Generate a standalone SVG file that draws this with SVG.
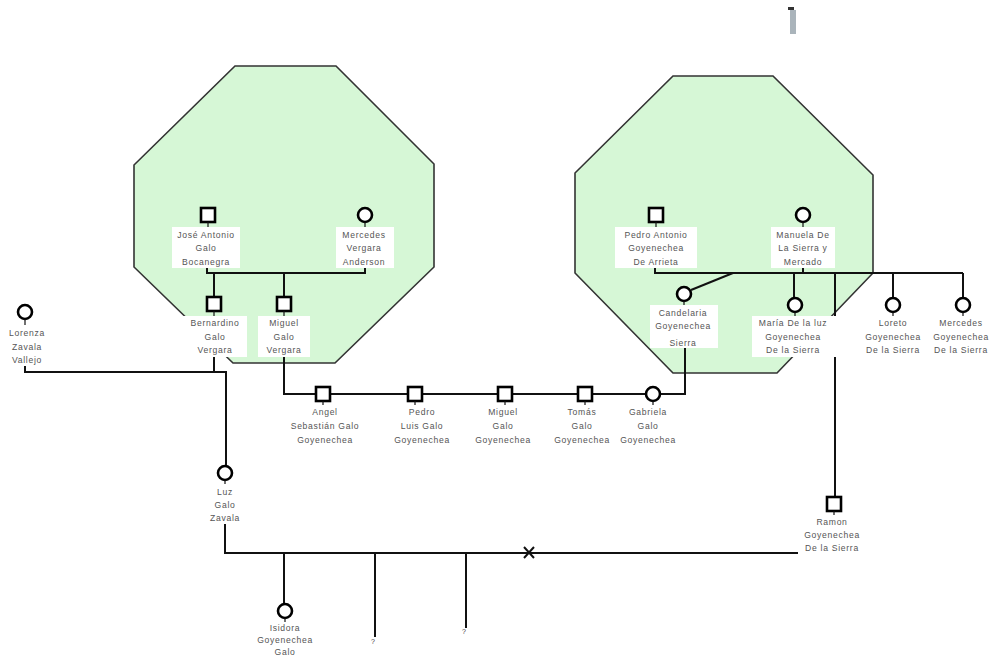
<svg xmlns="http://www.w3.org/2000/svg" width="993" height="659" viewBox="0 0 993 659">
  <style>
    .grp { fill: #d6f7d6; stroke: #333; stroke-width: 1.6; }
    .ln { fill: none; stroke: #111; stroke-width: 2; }
    .m { fill: #fff; stroke: #000; stroke-width: 2.6; }
    .stub { stroke: #111; stroke-width: 1.2; }
    .bg { fill: #fff; }
    .lb { font-family: "Liberation Sans", Arial, sans-serif; font-size: 8.6px; fill: #555; letter-spacing: 0.7px; text-anchor: middle; }
    .q { font-family: "Liberation Sans", Arial, sans-serif; font-size: 7px; fill: #444; text-anchor: middle; }
  </style>
  <rect width="993" height="659" fill="#fff"/>

  <!-- household groups -->
  <g id="household-galo-vergara">
    <polygon class="grp" points="235,66 336,66 434,164 434,267 335,363 233,363 134,267 134,165"/>
  </g>
  <g id="household-goyenechea-sierra">
    <polygon class="grp" points="673,76 773,76 873,175 873,273 777,373 673,373 575,273 575,173"/>
  </g>

  <!-- small mark at top -->
  <rect x="788" y="7" width="6" height="3" fill="#333"/>
  <rect x="790" y="10" width="6" height="24" fill="#aab4bb"/>

  <g id="connectors">
    <path class="ln" d="M207,267 V273 H365 V267"/>
    <path class="ln" d="M214,273 V297 M284,273 V297"/>
    <path class="ln" d="M214,357 V372 M25,366 V372 H226 V466"/>
    <path class="ln" d="M284,357 V394 H685 V348"/>
    <path class="ln" d="M655,267 V273 H963 M803,267 V273"/>
    <path class="ln" d="M733,273 L691,290"/>
    <path class="ln" d="M794,273 V298 M893,273 V298 M963,273 V298"/>
    <path class="ln" d="M835,273 V497"/>
    <path class="ln" d="M225,524 V553 H798"/>
    <path class="ln" d="M524,547 L534,558 M534,547 L524,558"/>
    <path class="ln" d="M284,553 V605 M375,553 V637 M466,553 V628"/>
    <text class="q" x="373" y="644">?</text>
    <text class="q" x="464" y="634">?</text>
  </g>

  <g id="jose-antonio">
    <rect class="m" x="201" y="208" width="14" height="14"/>
    <line class="stub" x1="208" y1="222" x2="208" y2="227"/>
    <rect class="bg" x="172" y="227" width="68" height="41"/>
    <text class="lb"><tspan x="206" y="238">José Antonio</tspan><tspan x="206" y="251">Galo</tspan><tspan x="206" y="265">Bocanegra</tspan></text>
  </g>
  <g id="mercedes-vergara">
    <circle class="m" cx="365" cy="215" r="7"/>
    <line class="stub" x1="365" y1="222" x2="365" y2="227"/>
    <rect class="bg" x="336" y="227" width="58" height="41"/>
    <text class="lb"><tspan x="364" y="238">Mercedes</tspan><tspan x="364" y="251">Vergara</tspan><tspan x="364" y="265">Anderson</tspan></text>
  </g>
  <g id="bernardino">
    <rect class="m" x="207" y="297" width="14" height="14"/>
    <line class="stub" x1="214" y1="311" x2="214" y2="316"/>
    <rect class="bg" x="183" y="316" width="64" height="41"/>
    <text class="lb"><tspan x="215" y="326">Bernardino</tspan><tspan x="215" y="340">Galo</tspan><tspan x="215" y="353">Vergara</tspan></text>
  </g>
  <g id="miguel-galo-vergara">
    <rect class="m" x="277" y="297" width="14" height="14"/>
    <line class="stub" x1="284" y1="311" x2="284" y2="316"/>
    <rect class="bg" x="258" y="316" width="52" height="41"/>
    <text class="lb"><tspan x="284" y="326">Miguel</tspan><tspan x="284" y="340">Galo</tspan><tspan x="284" y="353">Vergara</tspan></text>
  </g>
  <g id="lorenza">
    <circle class="m" cx="25" cy="312" r="7"/>
    <line class="stub" x1="25" y1="319" x2="25" y2="325"/>
    <rect class="bg" x="5" y="325" width="45" height="41"/>
    <text class="lb"><tspan x="27" y="336">Lorenza</tspan><tspan x="27" y="350">Zavala</tspan><tspan x="27" y="363">Vallejo</tspan></text>
  </g>

  <g id="angel">
    <rect class="m" x="316" y="387" width="14" height="14"/>
    <line class="stub" x1="323" y1="401" x2="323" y2="405"/>
    <rect class="bg" x="285" y="405" width="80" height="42"/>
    <text class="lb"><tspan x="325" y="415">Angel</tspan><tspan x="325" y="429">Sebastián Galo</tspan><tspan x="325" y="443">Goyenechea</tspan></text>
  </g>
  <g id="pedro-luis">
    <rect class="m" x="408" y="387" width="14" height="14"/>
    <line class="stub" x1="415" y1="401" x2="415" y2="405"/>
    <rect class="bg" x="388" y="405" width="68" height="42"/>
    <text class="lb"><tspan x="422" y="415">Pedro</tspan><tspan x="422" y="429">Luis Galo</tspan><tspan x="422" y="443">Goyenechea</tspan></text>
  </g>
  <g id="miguel-galo-goyenechea">
    <rect class="m" x="498" y="387" width="14" height="14"/>
    <line class="stub" x1="505" y1="401" x2="505" y2="405"/>
    <rect class="bg" x="470" y="405" width="66" height="42"/>
    <text class="lb"><tspan x="503" y="415">Miguel</tspan><tspan x="503" y="429">Galo</tspan><tspan x="503" y="443">Goyenechea</tspan></text>
  </g>
  <g id="tomas">
    <rect class="m" x="578" y="387" width="14" height="14"/>
    <line class="stub" x1="585" y1="401" x2="585" y2="405"/>
    <rect class="bg" x="550" y="405" width="64" height="42"/>
    <text class="lb"><tspan x="582" y="415">Tomás</tspan><tspan x="582" y="429">Galo</tspan><tspan x="582" y="443">Goyenechea</tspan></text>
  </g>
  <g id="gabriela">
    <circle class="m" cx="653" cy="394" r="7"/>
    <line class="stub" x1="653" y1="401" x2="653" y2="405"/>
    <rect class="bg" x="617" y="405" width="64" height="42"/>
    <text class="lb"><tspan x="648" y="415">Gabriela</tspan><tspan x="648" y="429">Galo</tspan><tspan x="648" y="443">Goyenechea</tspan></text>
  </g>

  <g id="pedro-antonio">
    <rect class="m" x="649" y="208" width="14" height="14"/>
    <line class="stub" x1="656" y1="222" x2="656" y2="227"/>
    <rect class="bg" x="615" y="227" width="82" height="41"/>
    <text class="lb"><tspan x="656" y="238">Pedro Antonio</tspan><tspan x="656" y="251">Goyenechea</tspan><tspan x="656" y="265">De Arrieta</tspan></text>
  </g>
  <g id="manuela">
    <circle class="m" cx="803" cy="215" r="7"/>
    <line class="stub" x1="803" y1="222" x2="803" y2="227"/>
    <rect class="bg" x="771" y="227" width="64" height="41"/>
    <text class="lb"><tspan x="803" y="238">Manuela De</tspan><tspan x="803" y="251">La Sierra y</tspan><tspan x="803" y="265">Mercado</tspan></text>
  </g>
  <g id="candelaria">
    <circle class="m" cx="684" cy="294" r="7"/>
    <line class="stub" x1="684" y1="301" x2="684" y2="305"/>
    <rect class="bg" x="650" y="305" width="68" height="43"/>
    <text class="lb"><tspan x="683" y="316">Candelaria</tspan><tspan x="683" y="329">Goyenechea</tspan><tspan x="683" y="346">Sierra</tspan></text>
  </g>
  <g id="maria-de-la-luz">
    <circle class="m" cx="795" cy="305" r="7"/>
    <line class="stub" x1="795" y1="312" x2="795" y2="316"/>
    <rect class="bg" x="752" y="316" width="84" height="41"/>
    <text class="lb"><tspan x="793" y="326">María De la luz</tspan><tspan x="793" y="340">Goyenechea</tspan><tspan x="793" y="353">De la Sierra</tspan></text>
  </g>
  <g id="loreto">
    <circle class="m" cx="893" cy="305" r="7"/>
    <line class="stub" x1="893" y1="312" x2="893" y2="316"/>
    <rect class="bg" x="860" y="316" width="66" height="41"/>
    <text class="lb"><tspan x="893" y="326">Loreto</tspan><tspan x="893" y="340">Goyenechea</tspan><tspan x="893" y="353">De la Sierra</tspan></text>
  </g>
  <g id="mercedes-goyenechea">
    <circle class="m" cx="963" cy="305" r="7"/>
    <line class="stub" x1="963" y1="312" x2="963" y2="316"/>
    <rect class="bg" x="929" y="316" width="64" height="41"/>
    <text class="lb"><tspan x="961" y="326">Mercedes</tspan><tspan x="961" y="340">Goyenechea</tspan><tspan x="961" y="353">De la Sierra</tspan></text>
  </g>

  <g id="luz">
    <circle class="m" cx="225" cy="473" r="7"/>
    <line class="stub" x1="225" y1="480" x2="225" y2="484"/>
    <rect class="bg" x="205" y="484" width="40" height="40"/>
    <text class="lb"><tspan x="225" y="495">Luz</tspan><tspan x="225" y="508">Galo</tspan><tspan x="225" y="521">Zavala</tspan></text>
  </g>
  <g id="ramon">
    <rect class="m" x="827" y="497" width="14" height="14"/>
    <line class="stub" x1="834" y1="511" x2="834" y2="515"/>
    <rect class="bg" x="800" y="515" width="66" height="38"/>
    <text class="lb"><tspan x="832" y="525">Ramon</tspan><tspan x="832" y="538">Goyenechea</tspan><tspan x="832" y="551">De la Sierra</tspan></text>
  </g>
  <g id="isidora">
    <circle class="m" cx="285" cy="611" r="7"/>
    <line class="stub" x1="285" y1="618" x2="285" y2="622"/>
    <rect class="bg" x="252" y="622" width="66" height="36"/>
    <text class="lb"><tspan x="285" y="631">Isidora</tspan><tspan x="285" y="643">Goyenechea</tspan><tspan x="285" y="655">Galo</tspan></text>
  </g>
</svg>
